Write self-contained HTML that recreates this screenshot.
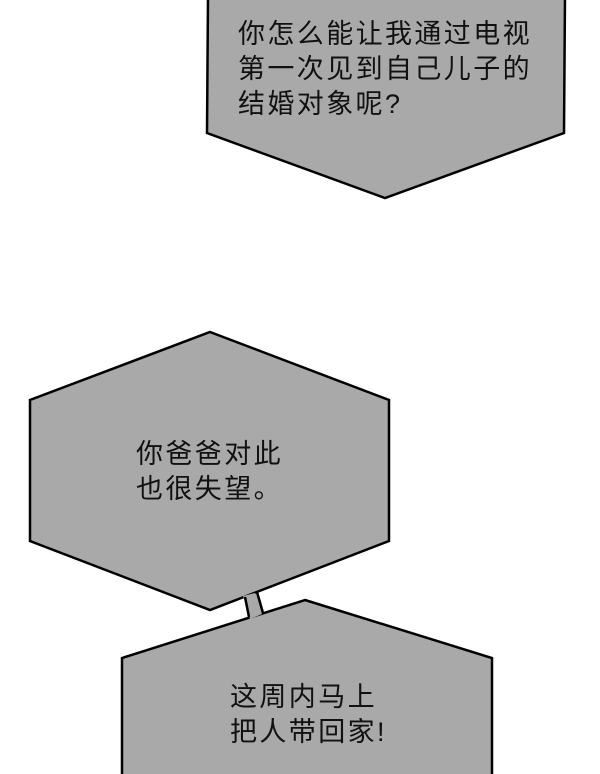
<!DOCTYPE html>
<html><head><meta charset="utf-8"><style>
html,body{margin:0;padding:0;background:#fff;}
.w{position:relative;width:600px;height:774px;overflow:hidden;}
svg{position:absolute;left:0;top:0;}
.t{position:absolute;font-family:"Liberation Sans","Noto Sans CJK SC",sans-serif;font-size:27px;line-height:35px;color:#111;letter-spacing:2.4px;white-space:nowrap;}
</style></head><body><div class="w">
<svg width="600" height="774" viewBox="0 0 600 774">
<g fill="#a9a9a9" stroke="#000" stroke-width="2.5" stroke-linejoin="miter">
<polygon points="208,-5 207,133 385,198 564,133 565,-5"/>
<polygon points="245,590 257,588 265,620 250,622" stroke="none"/>
<polygon points="210,332 389,400 389,541 210,610 30,541 30,400"/>
<polygon points="305,600 492,658 492,780 122,780 122,658"/>
<polygon points="243,596 255,593 262,614 250,619" stroke="none"/>
</g>
<g stroke="#000" stroke-width="2.5">
<line x1="245" y1="597" x2="249" y2="617"/>
<line x1="257" y1="592" x2="263" y2="613"/>
</g>
</svg>
<div class="t" style="left:238px;top:17px;">你怎么能让我通过电视<br>第一次见到自己儿子的<br>结婚对象呢?</div>
<div class="t" style="left:136px;top:437px;">你爸爸对此<br>也很失望。</div>
<div class="t" style="left:230px;top:680px;">这周内马上<br>把人带回家!</div>
</div></body></html>
